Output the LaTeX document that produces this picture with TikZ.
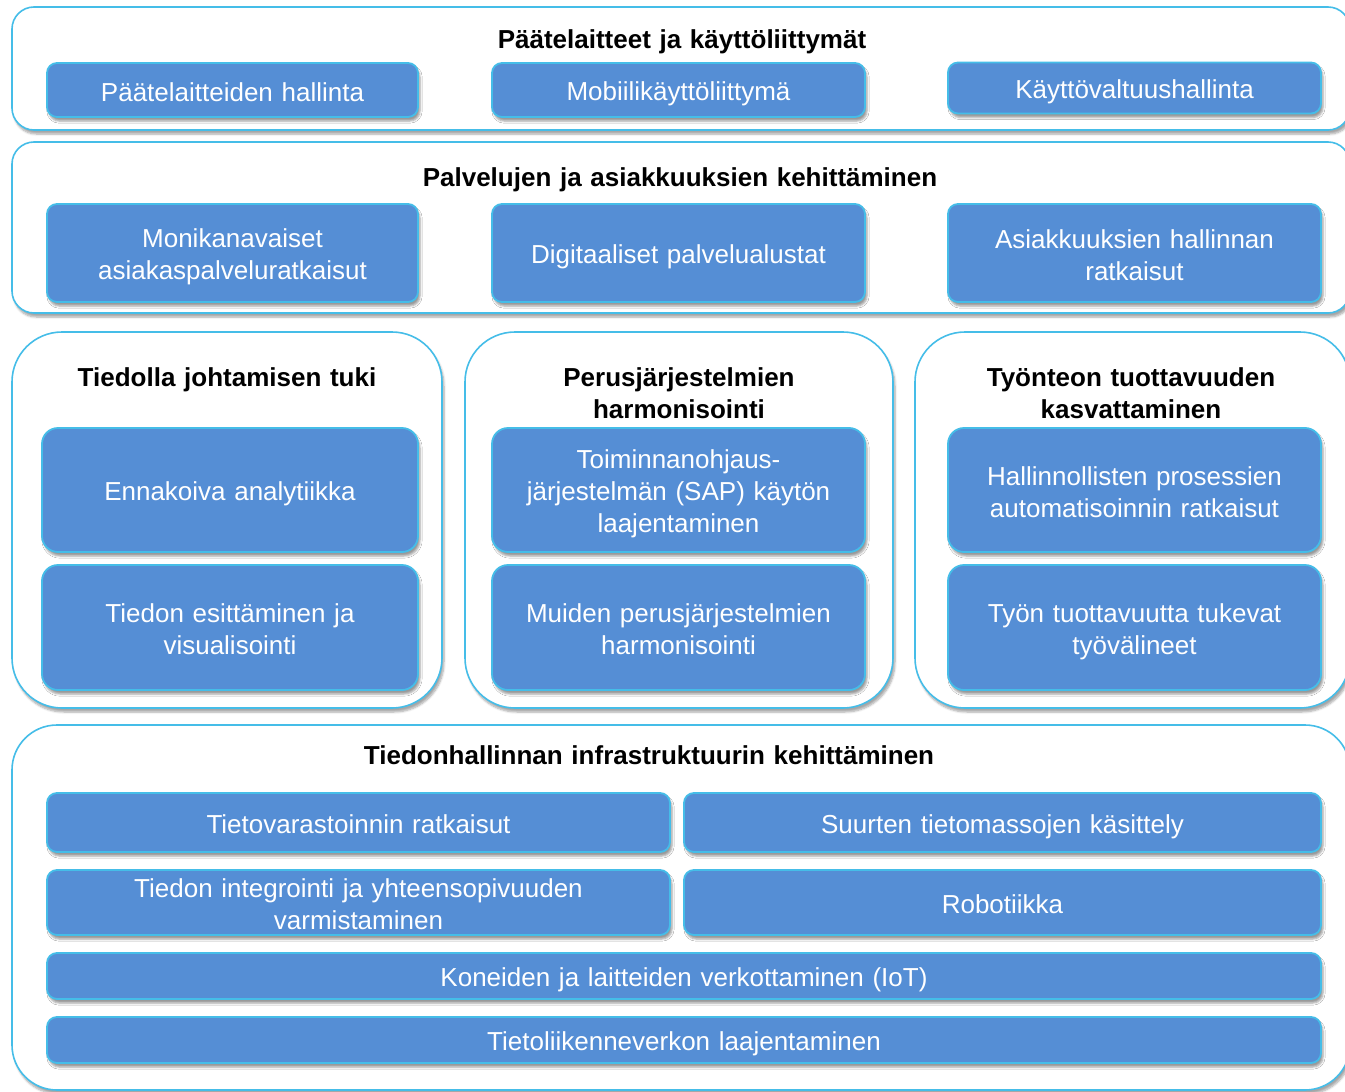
\documentclass[tikz,border=0pt]{standalone}
\usepackage{fontspec}
\setmainfont{Liberation Sans}
\usetikzlibrary{shadows,shadows.blur}
\definecolor{Cboxblue}{HTML}{558ED5}
\definecolor{Cedgecyan}{HTML}{45BDE8}
\newcommand\boxstrut{\rule[-5pt]{0pt}{32pt}}
\newcommand\boxfont{\fontsize{26}{32}\selectfont\lineskiplimit=-50pt\relax}

\tikzset{
	panel/.style={draw=Cedgecyan,line width=1.6pt,fill=white,inner sep=0pt,outer sep=0pt,
		blur shadow={shadow xshift=2pt,shadow yshift=-4pt,shadow blur steps=6,shadow opacity=35}},
	item/.style={draw=Cedgecyan,line width=1.8pt,fill=Cboxblue,text=white,align=center,
		rounded corners=10pt,inner sep=0pt,outer sep=0pt,text width=340pt,
		font=\boxfont,
		execute at begin node=\boxstrut,execute at end node=\boxstrut,
		blur shadow={shadow xshift=2pt,shadow yshift=-4pt,shadow blur steps=4,shadow opacity=40}},
	heading/.style={text=black,align=center,inner sep=0pt,text width=560pt,
		font=\bfseries\boxfont,
		execute at begin node=\boxstrut,execute at end node=\boxstrut}
}

\begin{document}
\begin{tikzpicture}[x=1pt,y=-1pt]
		\useasboundingbox (0,0) rectangle (1345,1092);
		\node[panel,rounded corners=22pt,minimum width=1338,minimum height=123] (devpanel) at (681,68.5) {};
		\node[panel,rounded corners=22pt,minimum width=1338,minimum height=171] (servpanel) at (681,227.5) {};
		\node[panel,rounded corners=50pt,minimum width=430,minimum height=376] (leadpanel) at (227,520) {};
		\node[panel,rounded corners=50pt,minimum width=428,minimum height=376] (corepanel) at (679,520) {};
		\node[panel,rounded corners=50pt,minimum width=435,minimum height=376] (workpanel) at (1132.5,520) {};
		\node[panel,rounded corners=45pt,minimum width=1338,minimum height=365] (infrapanel) at (681,907.5) {};

		\node[heading] (devtitle) at (682,37.5) {Päätelaitteet ja käyttöliittymät};
		\node[item,minimum width=371,minimum height=54] (devmgmt) at (232.5,90) {Päätelaitteiden hallinta};
		\node[item,minimum width=373,minimum height=54] (mobileui) at (678.5,90) {Mobiilikäyttöliittymä};
		\node[item,minimum width=373,minimum height=51] (accessmgmt) at (1134.5,88) {Käyttövaltuushallinta};

		\node[heading] (servtitle) at (680,175.5) {Palvelujen ja asiakkuuksien kehittäminen};
		\node[item,minimum width=371,minimum height=98] (multichannel) at (232.5,253) {Monikanavaiset\\asiakaspalveluratkaisut};
		\node[item,minimum width=373,minimum height=98] (digiplatform) at (678.5,253) {Digitaaliset palvelualustat};
		\node[item,minimum width=373,minimum height=98] (crm) at (1134.5,253) {Asiakkuuksien hallinnan\\ratkaisut};

		\node[heading,text width=400pt] (leadtitle) at (227,375.5) {Tiedolla johtamisen tuki};
		\node[item,rounded corners=16pt,minimum width=376,minimum height=124] (predictive) at (230,490) {Ennakoiva analytiikka};
		\node[item,rounded corners=16pt,minimum width=376,minimum height=125] (visual) at (230,627.5) {Tiedon esittäminen ja\\visualisointi};

		\node[heading,text width=400pt] (coretitle) at (679,391.5) {Perusjärjestelmien\\harmonisointi};
		\node[item,rounded corners=16pt,minimum width=373,minimum height=124] (erp) at (678.5,490) {Toiminnanohjaus-\\järjestelmän (SAP) käytön\\laajentaminen};
		\node[item,rounded corners=16pt,minimum width=373,minimum height=125] (othercore) at (678.5,627.5) {Muiden perusjärjestelmien\\harmonisointi};

		\node[heading,text width=400pt] (worktitle) at (1131,391.5) {Työnteon tuottavuuden\\kasvattaminen};
		\node[item,rounded corners=16pt,minimum width=373,minimum height=124] (automation) at (1134.5,490) {Hallinnollisten prosessien\\automatisoinnin ratkaisut};
		\node[item,rounded corners=16pt,minimum width=373,minimum height=125] (worktools) at (1134.5,627.5) {Työn tuottavuutta tukevat\\työvälineet};

		\node[heading,text width=700pt] (infratitle) at (649,753.5) {Tiedonhallinnan infrastruktuurin kehittäminen};
		\node[item,text width=600pt,minimum width=623,minimum height=59] (warehouse) at (358.5,822.5) {Tietovarastoinnin ratkaisut};
		\node[item,text width=600pt,minimum width=637,minimum height=59] (bigdata) at (1002.5,822.5) {Suurten tietomassojen käsittely};
		\node[item,text width=600pt,minimum width=623,minimum height=65] (integration) at (358.5,902.5) {Tiedon integrointi ja yhteensopivuuden\\varmistaminen};
		\node[item,text width=600pt,minimum width=637,minimum height=65] (robotics) at (1002.5,902.5) {Robotiikka};
		\node[item,text width=1200pt,minimum width=1274,minimum height=46] (iot) at (684,976) {Koneiden ja laitteiden verkottaminen (IoT)};
		\node[item,text width=1200pt,minimum width=1274,minimum height=46] (network) at (684,1040) {Tietoliikenneverkon laajentaminen};
	\end{tikzpicture}
\end{document}
